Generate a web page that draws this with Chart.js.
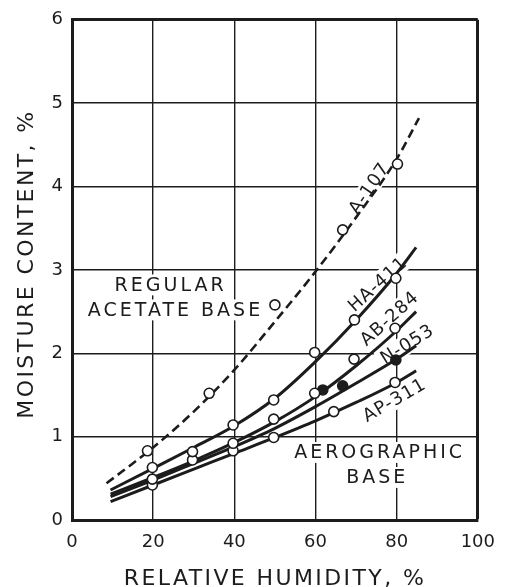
<!DOCTYPE html>
<html>
<head>
<meta charset="utf-8">
<script src="https://cdn.jsdelivr.net/npm/chart.js@4.4.1/dist/chart.umd.min.js"></script>
<style>
  html, body { margin: 0; padding: 0; background: #fff; }
  canvas { display: block; }
</style>
</head>
<body>
<canvas id="moistureChart" width="507" height="587"></canvas>
<script>
// --- data ---
const rhTicks = [0, 20, 40, 60, 80, 100];
const mcTicks = [0, 1, 2, 3, 4, 5, 6];

// fitted curves (relative humidity %, moisture content %)
const a107CurveRH = [8.5, 20, 30, 40, 50, 60, 70, 80, 85.5];
const a107CurveMC = [0.44, 0.87, 1.30, 1.80, 2.38, 2.98, 3.63, 4.33, 4.82];
const baseCurveRH = [9.5, 20, 30, 40, 50, 60, 70, 80, 84.8];
const ha411CurveMC = [0.36, 0.62, 0.87, 1.13, 1.46, 1.90, 2.40, 2.96, 3.27];
const ab284CurveMC = [0.31, 0.51, 0.71, 0.93, 1.18, 1.48, 1.85, 2.27, 2.50];
const n053CurveMC = [0.28, 0.48, 0.68, 0.88, 1.10, 1.36, 1.64, 1.93, 2.09];
const ap311CurveMC = [0.22, 0.42, 0.61, 0.80, 0.99, 1.19, 1.41, 1.65, 1.79];

// measured points
const a107PointRH = [18.6, 33.8, 50, 66.7, 80.2];
const a107PointMC = [0.83, 1.52, 2.58, 3.48, 4.27];
const ha411PointRH = [19.8, 29.7, 39.7, 49.7, 59.8, 69.6, 79.8];
const ha411PointMC = [0.63, 0.82, 1.14, 1.44, 2.01, 2.40, 2.90];
const ab284PointRH = [19.8, 29.7, 39.7, 49.7, 59.8, 69.5, 79.6];
const ab284PointMC = [0.49, 0.72, 0.92, 1.21, 1.52, 1.93, 2.30];
const n053PointRH = [61.8, 66.7, 79.8];
const n053PointMC = [1.56, 1.61, 1.92];
const ap311PointRH = [19.8, 39.7, 49.7, 64.5, 79.6];
const ap311PointMC = [0.42, 0.83, 0.99, 1.30, 1.65];

const INK = '#1c1c1c';
const FONT = "'DejaVu Sans', sans-serif";

function pts(xs, ys) {
    return xs.map((x, i) => ({ x: x, y: ys[i] }));
}

function curve(xs, ys, dashed) {
    return {
        data: pts(xs, ys),
        borderColor: INK,
        borderWidth: dashed ? 2.6 : 3,
        borderDash: dashed ? [9, 5] : [],
        pointRadius: 0,
        cubicInterpolationMode: 'monotone',
        fill: false,
        order: 2
    };
}

function markers(xs, ys, filled) {
    return {
        data: pts(xs, ys),
        showLine: false,
        pointRadius: 5,
        pointBorderWidth: 1.6,
        pointBorderColor: INK,
        pointBackgroundColor: filled ? INK : '#fff',
        order: 1
    };
}

// text written on the plot (positions in data units)
const plotLabels = [
    { text: 'REGULAR', x: 24.3, y: 2.82, angle: 0, size: 19, spacing: 3 },
    { text: 'ACETATE BASE', x: 25.5, y: 2.52, angle: 0, size: 19, spacing: 3 },
    { text: 'AEROGRAPHIC', x: 75.8, y: 0.81, angle: 0, size: 19, spacing: 3 },
    { text: 'BASE', x: 75.2, y: 0.51, angle: 0, size: 19, spacing: 3 },
    { text: 'A-107', x: 73.2, y: 3.98, angle: -56, size: 18, spacing: 1 },
    { text: 'HA-411', x: 75.3, y: 2.83, angle: -42, size: 18, spacing: 1 },
    { text: 'AB-284', x: 78.2, y: 2.42, angle: -42, size: 18, spacing: 1 },
    { text: 'N-053', x: 82.6, y: 2.11, angle: -32, size: 18, spacing: 1 },
    { text: 'AP-311', x: 79.4, y: 1.44, angle: -30, size: 18, spacing: 1 }
];

const textPlugin = {
    id: 'textPlugin',
    beforeDatasetsDraw(chart) {
        const ctx = chart.ctx;
        const xs = chart.scales.x, ys = chart.scales.y;
        plotLabels.forEach(l => {
            ctx.save();
            ctx.translate(xs.getPixelForValue(l.x), ys.getPixelForValue(l.y));
            ctx.rotate(l.angle * Math.PI / 180);
            ctx.font = l.size + 'px ' + FONT;
            ctx.letterSpacing = l.spacing + 'px';
            ctx.textAlign = 'center';
            ctx.textBaseline = 'middle';
            const w = ctx.measureText(l.text).width;
            ctx.fillStyle = '#fff';
            ctx.fillRect(-w / 2 - 4, -l.size * 0.55, w + 8, l.size * 1.1);
            ctx.fillStyle = INK;
            ctx.fillText(l.text, 0, 1);
            ctx.restore();
        });
    },
    afterDraw(chart) {
        // axis titles
        const ctx = chart.ctx;
        ctx.save();
        ctx.font = '22px ' + FONT;
        ctx.letterSpacing = '2.4px';
        ctx.fillStyle = INK;
        ctx.textAlign = 'center';
        ctx.textBaseline = 'alphabetic';
        ctx.fillText('RELATIVE HUMIDITY, %', 275, 585);
        ctx.translate(33, 264);
        ctx.rotate(-Math.PI / 2);
        ctx.fillText('MOISTURE CONTENT, %', 0, 0);
        ctx.restore();
    }
};

new Chart(document.getElementById('moistureChart'), {
    type: 'line',
    data: {
        datasets: [
            curve(a107CurveRH, a107CurveMC, true),
            curve(baseCurveRH, ha411CurveMC),
            curve(baseCurveRH, ab284CurveMC),
            curve(baseCurveRH, n053CurveMC),
            curve(baseCurveRH, ap311CurveMC),
            markers(a107PointRH, a107PointMC),
            markers(ha411PointRH, ha411PointMC),
            markers(ab284PointRH, ab284PointMC),
            markers(n053PointRH, n053PointMC, true),
            markers(ap311PointRH, ap311PointMC)
        ]
    },
    options: {
        responsive: false,
        animation: false,
        layout: { padding: { top: 16, right: 15, left: 0, bottom: 0 } },
        plugins: { legend: { display: false }, tooltip: { enabled: false } },
        scales: {
            x: {
                type: 'linear',
                min: 0,
                max: 100,
                afterBuildTicks: s => { s.ticks = rhTicks.map(v => ({ value: v })); },
                afterFit: s => { s.height = 67; },
                grid: {
                    color: INK,
                    lineWidth: c => (c.tick && c.tick.value === 100 ? 3 : 1.4),
                    drawTicks: false
                },
                border: { color: INK, width: 3 },
                ticks: { color: INK, font: { family: FONT, size: 18 }, padding: 12, maxRotation: 0 }
            },
            y: {
                type: 'linear',
                min: 0,
                max: 6,
                afterBuildTicks: s => { s.ticks = mcTicks.map(v => ({ value: v })); },
                afterFit: s => { s.width = 72; },
                grid: {
                    color: INK,
                    lineWidth: c => (c.tick && c.tick.value === 6 ? 3 : 1.4),
                    drawTicks: false
                },
                border: { color: INK, width: 3 },
                ticks: { color: INK, font: { family: FONT, size: 18 }, padding: 9 }
            }
        }
    },
    plugins: [textPlugin]
});
</script>
</body>
</html>
